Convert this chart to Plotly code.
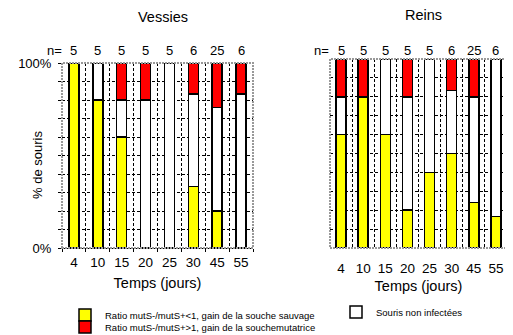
import plotly.graph_objects as go

# ---- data ----
jours = ["4", "10", "15", "20", "25", "30", "45", "55"]
n_vessies = [5, 5, 5, 5, 5, 6, 25, 6]
n_reins = [5, 5, 5, 5, 5, 6, 25, 6]

vessies_sauvage = [100, 80, 60, 0, 0, 33.3, 20, 0]
vessies_non_inf = [0, 20, 20, 80, 100, 50, 56, 83.3]
vessies_mutatrice = [0, 0, 20, 20, 0, 16.7, 24, 16.7]

reins_sauvage = [60, 80, 60, 20, 40, 50, 24, 16.7]
reins_non_inf = [20, 0, 40, 60, 60, 33.3, 56, 83.3]
reins_mutatrice = [20, 20, 0, 20, 0, 16.7, 20, 0]

lab_sauvage = "Ratio mutS-/mutS+<1, gain de la souche sauvage"
lab_mut = "Ratio mutS-/mutS+>1, gain de la souchemutatrice"
lab_non = "Souris non infectées"

# the page body has an 8px margin: size the figure to fill the rest of the window
OFF = 8
W, H = 513 - OFF, 335 - OFF
FONT = "Liberation Sans, Arial, sans-serif"

def px_x(p):
    return (p - OFF) / W

def px_y(p):
    return 1 - (p - OFF) / H

fig = go.Figure()

series = [
    ("x", "y", 0.42, vessies_sauvage, vessies_non_inf, vessies_mutatrice, True),
    ("x2", "y2", 0.45, reins_sauvage, reins_non_inf, reins_mutatrice, False),
]
for xa, ya, w, s, ni, m, show in series:
    fig.add_trace(go.Bar(x=jours, y=s, xaxis=xa, yaxis=ya, width=w, name=lab_sauvage,
                         marker=dict(color="#FFFF00", line=dict(color="black", width=1.5)),
                         legend="legend", showlegend=show))
    fig.add_trace(go.Bar(x=jours, y=ni, xaxis=xa, yaxis=ya, width=w, name=lab_non,
                         marker=dict(color="white", line=dict(color="black", width=1.5)),
                         legend="legend2", showlegend=show))
    fig.add_trace(go.Bar(x=jours, y=m, xaxis=xa, yaxis=ya, width=w, name=lab_mut,
                         marker=dict(color="#FF0000", line=dict(color="black", width=1.5)),
                         legend="legend3", showlegend=show))

grid_y = list(range(0, 101, 10))
common_y = dict(range=[0, 100], tickvals=grid_y, showgrid=True, gridcolor="black",
                griddash="3px,2px", gridwidth=1, zeroline=False, fixedrange=True)
xr = [-0.5, len(jours) - 0.5]
leg = dict(xanchor="left", yanchor="middle", font=dict(size=9.5), bgcolor="rgba(0,0,0,0)")

fig.update_layout(
    width=W, height=H, barmode="stack", plot_bgcolor="white", paper_bgcolor="white",
    margin=dict(l=0, r=0, t=0, b=0, pad=0, autoexpand=False),
    font=dict(family=FONT, color="black", size=12),
    xaxis=dict(domain=[px_x(62), px_x(253)], type="category", tickson="boundaries", range=xr,
               showgrid=True, gridcolor="black", griddash="3px,2px", gridwidth=1,
               ticks="outside", ticklen=3, tickcolor="black", showline=True, linecolor="black",
               tickfont=dict(size=13.5), ticklabelstandoff=2, tickangle=0,
               title=dict(text="Temps (jours)", font=dict(size=14.5), standoff=8)),
    yaxis=dict(domain=[px_y(248), px_y(63)], ticktext=["0%"] + [""] * 9 + ["100%"],
               ticks="outside", ticklen=3, tickcolor="black", tickfont=dict(size=13),
               ticklabelstandoff=4, **common_y),
    xaxis2=dict(domain=[px_x(330), px_x(507)], type="category", tickson="boundaries", range=xr,
                showgrid=True, gridcolor="black", griddash="3px,2px", gridwidth=1,
                ticks="", tickfont=dict(size=13.5), ticklabelstandoff=10, tickangle=0,
                title=dict(text="Temps (jours)", font=dict(size=14.5), standoff=6)),
    yaxis2=dict(domain=[px_y(248), px_y(59)], ticktext=[""] * 11, ticks="", **common_y),
    legend=dict(x=px_x(65), y=px_y(315), **leg),
    legend3=dict(x=px_x(65), y=px_y(327), **leg),
    legend2=dict(x=px_x(336), y=px_y(312), **leg),
    bargap=0.5,
)

# dotted grey frames around plot areas
for xref, yref in [("x domain", "y domain"), ("x2 domain", "y2 domain")]:
    fig.add_shape(type="rect", xref=xref, yref=yref, x0=0, x1=1, y0=0, y1=1,
                  line=dict(color="#999999", width=2, dash="2px,1px"), layer="above")

ann = []
def add_paper(text, x, y, size, angle=0):
    ann.append(dict(text=text, x=px_x(x), y=px_y(y), xref="paper", yref="paper",
                    xanchor="center", yanchor="middle", showarrow=False,
                    textangle=angle, font=dict(size=size)))

add_paper("Vessies", 163, 17, 14.5)
add_paper("Reins", 423, 15, 14.5)
add_paper("% de souris", 38, 165, 13, -90)
add_paper("n=", 54, 50, 13)
add_paper("n=", 321, 50, 13)
for i, (nv, nr) in enumerate(zip(n_vessies, n_reins)):
    ann.append(dict(text=str(nv), x=i, xref="x", y=px_y(50), yref="paper",
                    xanchor="center", yanchor="middle", showarrow=False, font=dict(size=13)))
    ann.append(dict(text=str(nr), x=i, xref="x2", y=px_y(50), yref="paper",
                    xanchor="center", yanchor="middle", showarrow=False, font=dict(size=13)))
fig.update_layout(annotations=ann)

fig.write_html("out.html")
